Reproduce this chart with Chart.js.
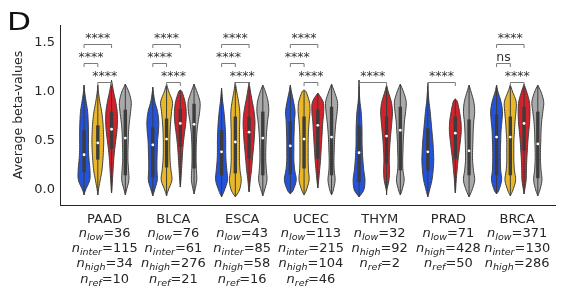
<!DOCTYPE html>
<html>
<head>
<meta charset="utf-8">
<script src="https://cdn.jsdelivr.net/npm/chart.js@4.4.1/dist/chart.umd.min.js"></script>
<style>
    html, body { margin: 0; padding: 0; background: #fff; }
    #wrap { position: relative; width: 587px; height: 300px; }
    #panel {
        position: absolute; left: 7px; top: 8px;
        font: 24px "DejaVu Sans"; line-height: 28px; color: #111;
        transform: scaleX(1.3); transform-origin: left top;
    }
</style>
</head>
<body>
<div id="wrap">
    <canvas id="chart" width="587" height="300"></canvas>
    <div id="panel">D</div>
</div>
<script>
/**
 * Categories and group sizes
 */
var categories = ['PAAD', 'BLCA', 'ESCA', 'UCEC', 'THYM', 'PRAD', 'BRCA'];
var nLow   = [36, 76, 43, 113, 32, 71, 371];
var nInter = [115, 61, 85, 215, null, null, 130];
var nHigh  = [34, 276, 58, 104, 92, 428, 286];
var nRef   = [10, 21, 16, 46, 2, 50, null];

var yTicks = [0, 0.5, 1.0, 1.5];

/**
 * Violin density profiles, read at these beta values (relative width 0..1)
 */
var gridValues = [-0.1, 0, 0.1, 0.2, 0.3, 0.4, 0.5, 0.6, 0.7, 0.8, 0.9, 1.0, 1.1];

var lowShape = [
    [0, 0.25, 0.95, 1.0, 0.85, 0.75, 0.75, 0.75, 0.7, 0.6, 0.35, 0.1, 0],
    [0, 0.3, 0.75, 0.7, 0.7, 0.75, 0.8, 0.95, 1.0, 0.8, 0.35, 0.08, 0],
    [0, 0.5, 1.0, 0.9, 0.75, 0.7, 0.7, 0.65, 0.55, 0.4, 0.2, 0.05, 0],
    [0, 0.5, 1.0, 0.75, 0.6, 0.6, 0.6, 0.65, 0.7, 0.8, 0.55, 0.2, 0],
    [0, 0.8, 1.0, 0.8, 0.65, 0.55, 0.5, 0.5, 0.45, 0.35, 0.15, 0.05, 0.02],
    [0, 0.3, 0.7, 0.9, 1.0, 0.95, 0.85, 0.7, 0.55, 0.4, 0.2, 0.07, 0],
    [0, 0.4, 0.85, 0.7, 0.65, 0.65, 0.7, 0.75, 0.9, 1.0, 0.75, 0.25, 0]
];
var interShape = [
    [0, 0.1, 0.4, 0.7, 0.85, 0.95, 1.0, 0.95, 0.85, 0.65, 0.35, 0.1, 0],
    [0, 0.3, 0.9, 0.75, 0.6, 0.55, 0.55, 0.6, 0.7, 0.85, 1.0, 0.4, 0],
    [0, 0.7, 1.0, 0.8, 0.7, 0.7, 0.7, 0.7, 0.75, 0.75, 0.55, 0.25, 0.03],
    [0, 0.4, 0.85, 0.75, 0.7, 0.7, 0.7, 0.75, 0.85, 1.0, 0.9, 0.35, 0],
    null,
    null,
    [0, 0.45, 0.9, 0.7, 0.6, 0.6, 0.6, 0.7, 0.8, 0.95, 1.0, 0.4, 0]
];
var highShape = [
    [0, 0.05, 0.15, 0.25, 0.35, 0.5, 0.7, 0.9, 1.0, 0.95, 0.7, 0.35, 0.05],
    [0, 0, 0.1, 0.2, 0.3, 0.4, 0.55, 0.75, 0.95, 1.0, 0.8, 0.3, 0],
    [0, 0.05, 0.2, 0.4, 0.55, 0.7, 0.85, 0.95, 1.0, 0.85, 0.55, 0.25, 0.05],
    [0, 0.03, 0.15, 0.3, 0.45, 0.55, 0.65, 0.75, 0.85, 1.0, 0.9, 0.25, 0],
    [0, 0.05, 0.4, 0.5, 0.45, 0.5, 0.6, 0.75, 0.9, 1.0, 0.8, 0.3, 0],
    [0, 0.05, 0.15, 0.3, 0.45, 0.65, 0.85, 1.0, 0.95, 0.7, 0.35, 0.05, 0],
    [0, 0.1, 0.35, 0.4, 0.45, 0.55, 0.65, 0.8, 0.95, 1.0, 0.9, 0.45, 0.03]
];
var refShape = [
    [0, 0.2, 0.6, 0.55, 0.45, 0.45, 0.5, 0.55, 0.7, 0.9, 1.0, 0.6, 0.05],
    [0, 0.15, 0.45, 0.4, 0.35, 0.35, 0.4, 0.5, 0.7, 0.95, 1.0, 0.5, 0.05],
    [0, 0.3, 0.7, 0.6, 0.5, 0.5, 0.55, 0.65, 0.8, 1.0, 0.9, 0.45, 0.03],
    [0, 0.3, 0.6, 0.45, 0.4, 0.45, 0.5, 0.6, 0.75, 0.95, 1.0, 0.5, 0.05],
    [0, 0.3, 0.65, 0.45, 0.4, 0.45, 0.5, 0.6, 0.7, 0.9, 1.0, 0.55, 0.05],
    [0, 0.5, 0.95, 0.75, 0.6, 0.6, 0.65, 0.7, 0.8, 0.95, 0.8, 0.35, 0.03],
    [0, 0.35, 0.7, 0.55, 0.45, 0.45, 0.5, 0.55, 0.65, 0.85, 1.0, 0.55, 0.05]
];

/**
 * Tail ends and box statistics
 */
var lowMin   = [-0.05, -0.06, -0.07, -0.04, -0.07, -0.07, -0.04];
var lowMax   = [1.07, 1.05, 1.04, 1.07, 1.12, 1.09, 1.07];
var lowQ1    = [0.18, 0.13, 0.15, 0.16, 0.08, 0.2, 0.15];
var lowMed   = [0.36, 0.46, 0.39, 0.45, 0.38, 0.39, 0.54];
var lowQ3    = [0.61, 0.64, 0.61, 0.7, 0.66, 0.63, 0.77];

var interMin = [-0.05, -0.06, -0.07, -0.05, null, null, -0.06];
var interMax = [1.07, 1.08, 1.1, 1.02, null, null, 1.07];
var interQ1  = [0.31, 0.23, 0.17, 0.22, null, null, 0.15];
var interMed = [0.48, 0.52, 0.49, 0.52, null, null, 0.54];
var interQ3  = [0.66, 0.73, 0.75, 0.75, null, null, 0.75];

var highMin  = [-0.03, 0.03, -0.02, 0.02, -0.05, -0.03, -0.04];
var highMax  = [1.12, 1.02, 1.1, 0.99, 1.07, 0.93, 1.08];
var highQ1   = [0.42, 0.44, 0.32, 0.32, 0.27, 0.32, 0.4];
var highMed  = [0.62, 0.68, 0.59, 0.66, 0.55, 0.58, 0.68];
var highQ3   = [0.8, 0.83, 0.75, 0.82, 0.75, 0.75, 0.85];

var refMin   = [-0.05, -0.04, -0.06, -0.05, -0.05, -0.07, -0.06];
var refMax   = [1.08, 1.08, 1.07, 1.08, 1.08, 1.07, 1.07];
var refQ1    = [0.15, 0.22, 0.15, 0.15, 0.2, 0.15, 0.12];
var refMed   = [0.53, 0.67, 0.53, 0.54, 0.61, 0.40, 0.47];
var refQ3    = [0.82, 0.88, 0.8, 0.85, 0.85, 0.72, 0.8];

/**
 * Significance brackets (dataset index: 0 low, 1 inter, 2 high, 3 ref)
 */
var sigCategory = [0, 0, 0, 1, 1, 1, 2, 2, 2, 3, 3, 3, 4, 5, 6, 6, 6];
var sigFrom     = [0, 0, 1, 0, 0, 1, 0, 0, 1, 0, 0, 1, 0, 0, 0, 0, 1];
var sigTo       = [2, 1, 2, 2, 1, 2, 2, 1, 2, 2, 1, 2, 2, 2, 2, 1, 2];
var sigLevel    = [1.49, 1.30, 1.105, 1.49, 1.30, 1.105, 1.49, 1.30, 1.105,
                   1.49, 1.30, 1.105, 1.105, 1.105, 1.49, 1.30, 1.105];
var sigText     = ['****', '****', '****', '****', '****', '****', '****', '****', '****',
                   '****', '****', '****', '****', '****', '****', 'ns', '****'];

var FONT = '"DejaVu Sans"';
var INK = '#262626';

var series = [
    { sub: 'low',   n: nLow,   color: '#2353da', shape: lowShape,   lo: lowMin,   hi: lowMax,   q1: lowQ1,   med: lowMed,   q3: lowQ3 },
    { sub: 'inter', n: nInter, color: '#e9b82a', shape: interShape, lo: interMin, hi: interMax, q1: interQ1, med: interMed, q3: interQ3 },
    { sub: 'high',  n: nHigh,  color: '#d2222b', shape: highShape,  lo: highMin,  hi: highMax,  q1: highQ1,  med: highMed,  q3: highQ3 },
    { sub: 'ref',   n: nRef,   color: '#a9a9a9', shape: refShape,   lo: refMin,   hi: refMax,   q1: refQ1,   med: refMed,   q3: refQ3 }
];

/**
 * Catmull-Rom resample of the outline points [y, w]
 */
function smoothOutline(pts) {
    var out = [];
    var steps = 6;
    for (var k = 0; k < pts.length - 1; k++) {
        var p0 = pts[Math.max(k - 1, 0)];
        var p1 = pts[k];
        var p2 = pts[k + 1];
        var p3 = pts[Math.min(k + 2, pts.length - 1)];
        for (var s = 0; s < steps; s++) {
            var t = s / steps, t2 = t * t, t3 = t2 * t;
            var f = function(a, b, c, d) {
                return 0.5 * (2 * b + (-a + c) * t + (2 * a - 5 * b + 4 * c - d) * t2 + (-a + 3 * b - 3 * c + d) * t3);
            };
            out.push([f(p0[0], p1[0], p2[0], p3[0]), Math.max(0, f(p0[1], p1[1], p2[1], p3[1]))]);
        }
    }
    out.push(pts[pts.length - 1]);
    return out;
}

/**
 * Draw one violin with its inner box
 */
function drawViolin(ctx, yScale, cx, half, s, i) {
    var lo = s.lo[i], hi = s.hi[i], shape = s.shape[i];
    var pts = [[yScale.getPixelForValue(lo), 0]];
    for (var g = 0; g < gridValues.length; g++) {
        if (gridValues[g] > lo && gridValues[g] < hi) {
            pts.push([yScale.getPixelForValue(gridValues[g]), shape[g] * half]);
        }
    }
    pts.push([yScale.getPixelForValue(hi), 0]);
    var line = smoothOutline(pts);

    ctx.save();
    ctx.beginPath();
    line.forEach(function(p, k) {
        if (k === 0) ctx.moveTo(cx + p[1], p[0]);
        else ctx.lineTo(cx + p[1], p[0]);
    });
    for (var k = line.length - 1; k >= 0; k--) {
        ctx.lineTo(cx - line[k][1], line[k][0]);
    }
    ctx.closePath();
    ctx.fillStyle = s.color;
    ctx.fill();
    ctx.lineWidth = 1;
    ctx.strokeStyle = '#3c3c3c';
    ctx.stroke();

    // whisker
    ctx.beginPath();
    ctx.moveTo(cx, yScale.getPixelForValue(lo));
    ctx.lineTo(cx, yScale.getPixelForValue(hi));
    ctx.lineWidth = 1;
    ctx.strokeStyle = '#3c3c3c';
    ctx.stroke();

    // box
    var top = yScale.getPixelForValue(s.q3[i]);
    var bot = yScale.getPixelForValue(s.q1[i]);
    ctx.fillStyle = '#3c3c3c';
    ctx.fillRect(cx - 1.7, top, 3.4, bot - top);

    // median
    ctx.beginPath();
    ctx.arc(cx, yScale.getPixelForValue(s.med[i]), 1.4, 0, Math.PI * 2);
    ctx.fillStyle = '#ffffff';
    ctx.fill();
    ctx.restore();
}

var violinPlugin = {
    id: 'violins',
    afterDatasetsDraw: function(chart) {
        var ctx = chart.ctx;
        var yScale = chart.scales.y;
        series.forEach(function(s, d) {
            var meta = chart.getDatasetMeta(d);
            meta.data.forEach(function(el, i) {
                if (!s.shape[i]) return;
                drawViolin(ctx, yScale, el.x, el.width / 2 * 0.86, s, i);
            });
        });
    }
};

var bracketPlugin = {
    id: 'brackets',
    afterDraw: function(chart) {
        var ctx = chart.ctx;
        var yScale = chart.scales.y;
        ctx.save();
        for (var k = 0; k < sigCategory.length; k++) {
            var c = sigCategory[k];
            var x1 = chart.getDatasetMeta(sigFrom[k]).data[c].x;
            var x2 = chart.getDatasetMeta(sigTo[k]).data[c].x;
            var y = Math.round(yScale.getPixelForValue(sigLevel[k])) + 0.5;
            ctx.beginPath();
            ctx.moveTo(x1, y + 3.5);
            ctx.lineTo(x1, y);
            ctx.lineTo(x2, y);
            ctx.lineTo(x2, y + 3.5);
            ctx.lineWidth = 1;
            ctx.strokeStyle = '#7a7a7a';
            ctx.stroke();
            ctx.font = '12.5px ' + FONT;
            ctx.fillStyle = '#333';
            ctx.textAlign = 'center';
            ctx.textBaseline = 'alphabetic';
            ctx.fillText(sigText[k], (x1 + x2) / 2, y - 2.5);
        }
        ctx.restore();
    }
};

var labelPlugin = {
    id: 'groupLabels',
    afterDraw: function(chart) {
        var ctx = chart.ctx;
        var xScale = chart.scales.x;
        var big = '13px ' + FONT;
        var it = 'italic 13px ' + FONT;
        var sm = 'italic 9.5px ' + FONT;
        ctx.save();
        ctx.fillStyle = INK;
        ctx.textBaseline = 'alphabetic';
        categories.forEach(function(name, i) {
            var x = xScale.getPixelForValue(i);
            ctx.font = big;
            ctx.textAlign = 'center';
            ctx.fillText(name, x, 223.3);
            ctx.textAlign = 'left';
            var row = 0;
            series.forEach(function(s) {
                if (s.n[i] === null) return;
                var b = 236.7 + row * 15.3;
                var rest = '=' + s.n[i];
                ctx.font = it;  var w1 = ctx.measureText('n').width;
                ctx.font = sm;  var w2 = ctx.measureText(s.sub).width;
                ctx.font = big; var w3 = ctx.measureText(rest).width;
                var x0 = x - (w1 + w2 + w3) / 2;
                ctx.font = it;  ctx.fillText('n', x0, b);
                ctx.font = sm;  ctx.fillText(s.sub, x0 + w1, b + 3);
                ctx.font = big; ctx.fillText(rest, x0 + w1 + w2, b);
                row++;
            });
        });
        ctx.restore();
    }
};

var datasets = series.map(function(s) {
    return {
        label: s.sub,
        data: s.med.map(function(m, i) { return { x: i, y: m }; }),
        backgroundColor: 'rgba(0,0,0,0)',
        borderWidth: 0
    };
});

new Chart(document.getElementById('chart'), {
    type: 'bar',
    data: { datasets: datasets },
    plugins: [violinPlugin, bracketPlugin, labelPlugin],
    options: {
        responsive: false,
        animation: false,
        devicePixelRatio: 1,
        categoryPercentage: 0.8,
        barPercentage: 1.0,
        layout: { padding: { top: 25, right: 32, left: 0, bottom: 0 } },
        plugins: { legend: { display: false }, tooltip: { enabled: false } },
        scales: {
            x: {
                type: 'linear',
                min: -0.65,
                max: 6.55,
                offset: false,
                grid: { display: false, drawTicks: false, offset: false },
                border: { display: true, color: INK, width: 1 },
                ticks: { display: false },
                afterBuildTicks: function(scale) {
                    scale.ticks = categories.map(function(c, i) { return { value: i }; });
                },
                afterFit: function(scale) { scale.height = 95; }
            },
            y: {
                min: -0.153,
                max: 1.684,
                grid: { display: false, drawTicks: false },
                border: { display: true, color: INK, width: 1 },
                ticks: {
                    padding: 5,
                    color: INK,
                    font: { family: 'DejaVu Sans', size: 13 },
                    callback: function(v) { return Number(v).toFixed(1); }
                },
                afterBuildTicks: function(scale) {
                    scale.ticks = yTicks.map(function(v) { return { value: v }; });
                },
                title: {
                    display: true,
                    text: 'Average beta-values',
                    color: INK,
                    font: { family: 'DejaVu Sans', size: 12.5 },
                    padding: { top: 11, bottom: 0 }
                },
                afterFit: function(scale) { scale.width = 60; }
            }
        }
    }
});
</script>
</body>
</html>
